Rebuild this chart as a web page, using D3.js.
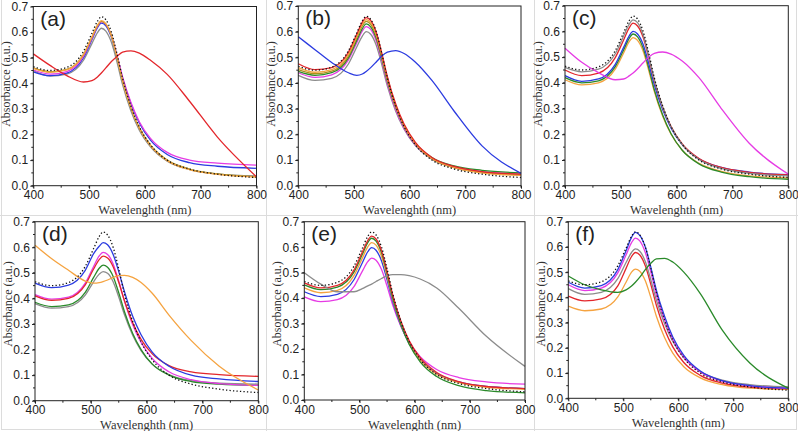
<!DOCTYPE html>
<html><head><meta charset="utf-8">
<script src="https://cdn.jsdelivr.net/npm/d3@7"></script>
<style>html,body{margin:0;padding:0;background:#fff;}svg{display:block;}</style>
</head><body>
<svg id="chart" width="798" height="431"></svg>
<script>
// ---------- data ----------
const wavelengths = [400,430,460,490,505,515,522,530,540,550,560,575,590,610,640,680,730,800];
const xTicks = [400,500,600,700,800];
const yTicks = [0.0,0.1,0.2,0.3,0.4,0.5,0.6,0.7];
const panelLabels = ["(a)","(b)","(c)","(d)","(e)","(f)"];
const xTitle = "Wavelenghth (nm)";
const yTitle = "Absorbance (a.u.)";

const control = [0.465,0.450,0.462,0.525,0.595,0.642,0.660,0.648,0.600,0.515,0.420,0.310,0.230,0.160,0.100,0.065,0.045,0.032];

// panel (a)
const aOrange  = [0.458,0.443,0.452,0.513,0.581,0.627,0.645,0.633,0.586,0.503,0.410,0.303,0.225,0.157,0.098,0.063,0.044,0.034];
const aOlive   = [0.460,0.445,0.454,0.512,0.579,0.625,0.642,0.631,0.585,0.502,0.410,0.304,0.226,0.158,0.100,0.065,0.046,0.035];
const aMagenta = [0.452,0.436,0.446,0.506,0.575,0.622,0.640,0.630,0.586,0.510,0.425,0.325,0.250,0.185,0.130,0.100,0.088,0.080];
const aBlue    = [0.445,0.430,0.440,0.500,0.570,0.617,0.635,0.625,0.580,0.505,0.420,0.320,0.245,0.178,0.122,0.090,0.076,0.068];
const aGrey    = [0.450,0.428,0.436,0.490,0.555,0.598,0.615,0.604,0.560,0.483,0.395,0.292,0.217,0.152,0.096,0.063,0.046,0.038];
const aRed     = [0.515,0.470,0.430,0.405,0.410,0.425,0.440,0.460,0.485,0.505,0.522,0.527,0.518,0.490,0.435,0.330,0.190,0.035];

// panel (b)
const bRed     = [0.475,0.452,0.460,0.520,0.590,0.637,0.655,0.644,0.598,0.516,0.425,0.318,0.240,0.170,0.110,0.075,0.055,0.045];
const bOrange  = [0.460,0.442,0.452,0.512,0.582,0.629,0.647,0.636,0.590,0.508,0.418,0.312,0.235,0.166,0.106,0.070,0.050,0.040];
const bOlive   = [0.452,0.436,0.446,0.505,0.575,0.622,0.640,0.629,0.583,0.503,0.413,0.308,0.232,0.164,0.105,0.070,0.052,0.042];
const bGreen   = [0.445,0.430,0.440,0.498,0.566,0.612,0.630,0.619,0.574,0.496,0.408,0.306,0.232,0.166,0.110,0.077,0.060,0.050];
const bMagenta = [0.440,0.422,0.432,0.490,0.557,0.603,0.620,0.609,0.564,0.486,0.398,0.297,0.224,0.160,0.105,0.072,0.055,0.045];
const bGrey    = [0.430,0.410,0.418,0.474,0.540,0.583,0.600,0.590,0.547,0.472,0.388,0.290,0.220,0.157,0.103,0.070,0.053,0.043];
const bBlue    = [0.580,0.530,0.480,0.440,0.430,0.435,0.445,0.460,0.482,0.505,0.520,0.526,0.515,0.482,0.410,0.290,0.155,0.048];

// panel (c)
const cGrey    = [0.460,0.443,0.453,0.513,0.582,0.628,0.645,0.634,0.587,0.504,0.412,0.305,0.228,0.160,0.102,0.067,0.048,0.038];
const cRed     = [0.450,0.428,0.438,0.498,0.567,0.614,0.632,0.621,0.577,0.498,0.408,0.305,0.230,0.163,0.106,0.071,0.052,0.042];
const cBlue    = [0.428,0.406,0.415,0.472,0.538,0.583,0.600,0.590,0.549,0.475,0.392,0.295,0.224,0.160,0.105,0.071,0.053,0.043];
const cGreen   = [0.420,0.400,0.408,0.463,0.528,0.573,0.590,0.579,0.535,0.458,0.373,0.275,0.202,0.138,0.085,0.053,0.035,0.025];
const cOrange  = [0.412,0.392,0.400,0.453,0.516,0.560,0.576,0.565,0.523,0.448,0.366,0.270,0.200,0.138,0.087,0.056,0.038,0.030];
const cMagenta = [0.535,0.480,0.440,0.412,0.415,0.427,0.438,0.455,0.478,0.500,0.515,0.520,0.512,0.485,0.420,0.300,0.165,0.045];

// panel (d)
const dBlue    = [0.460,0.442,0.452,0.510,0.575,0.604,0.618,0.610,0.572,0.505,0.428,0.330,0.258,0.190,0.135,0.100,0.085,0.075];
const dMagenta = [0.415,0.397,0.405,0.460,0.525,0.566,0.580,0.572,0.535,0.468,0.392,0.297,0.228,0.165,0.113,0.082,0.067,0.060];
const dRed     = [0.410,0.392,0.400,0.453,0.515,0.552,0.565,0.558,0.524,0.463,0.393,0.305,0.240,0.183,0.137,0.113,0.102,0.095];
const dGreen   = [0.385,0.368,0.375,0.424,0.482,0.518,0.530,0.522,0.486,0.422,0.350,0.263,0.200,0.143,0.100,0.075,0.065,0.060];
const dGrey    = [0.380,0.362,0.368,0.413,0.465,0.495,0.505,0.498,0.465,0.405,0.338,0.256,0.196,0.143,0.102,0.078,0.069,0.065];
const dOrange  = [0.608,0.555,0.510,0.468,0.460,0.462,0.466,0.472,0.482,0.489,0.490,0.482,0.462,0.420,0.335,0.235,0.135,0.042];

// panel (e)
const eRed     = [0.460,0.440,0.450,0.510,0.580,0.626,0.643,0.632,0.586,0.505,0.415,0.310,0.233,0.166,0.108,0.072,0.053,0.045];
const eGreen   = [0.452,0.433,0.443,0.502,0.571,0.618,0.635,0.624,0.578,0.496,0.403,0.297,0.219,0.150,0.092,0.056,0.037,0.028];
const eOrange  = [0.440,0.421,0.430,0.488,0.556,0.601,0.618,0.608,0.563,0.485,0.397,0.296,0.222,0.157,0.101,0.068,0.050,0.042];
const eBlue    = [0.425,0.406,0.415,0.472,0.538,0.582,0.598,0.588,0.546,0.472,0.388,0.292,0.221,0.158,0.104,0.071,0.053,0.045];
const eMagenta = [0.405,0.386,0.394,0.445,0.505,0.543,0.557,0.549,0.512,0.447,0.375,0.290,0.227,0.170,0.120,0.088,0.071,0.062];
const eGrey    = [0.500,0.455,0.425,0.425,0.437,0.448,0.455,0.465,0.477,0.487,0.492,0.492,0.488,0.475,0.440,0.360,0.250,0.132];

// panel (f)
const fBlue    = [0.460,0.437,0.447,0.510,0.585,0.638,0.658,0.646,0.600,0.520,0.430,0.325,0.243,0.170,0.108,0.070,0.050,0.040];
const fMagenta = [0.450,0.427,0.437,0.497,0.568,0.617,0.635,0.624,0.578,0.500,0.412,0.310,0.232,0.163,0.104,0.068,0.049,0.040];
const fGrey    = [0.435,0.412,0.420,0.474,0.538,0.578,0.592,0.583,0.542,0.470,0.390,0.296,0.225,0.161,0.106,0.072,0.054,0.045];
const fRed     = [0.405,0.386,0.394,0.446,0.515,0.562,0.578,0.568,0.525,0.452,0.370,0.274,0.204,0.142,0.091,0.060,0.044,0.038];
const fOrange  = [0.365,0.347,0.354,0.402,0.460,0.500,0.512,0.504,0.466,0.400,0.326,0.241,0.179,0.125,0.081,0.054,0.040,0.035];
const fGreen   = [0.485,0.450,0.430,0.420,0.430,0.445,0.460,0.480,0.510,0.535,0.553,0.555,0.540,0.500,0.415,0.270,0.140,0.040];

// ---------- styles / layout ----------
const C = {red:"#e3262b", blue:"#2b3be0", magenta:"#e63be4", olive:"#a8921c", orange:"#f5a340",
           green:"#2a8a2a", grey:"#8c8c8c", black:"#111"};

const panels = [
  {x0:33.3, x1:256.5, yT:6.5, yB:185.7, ytx:84, series:[
    [aGrey,C.grey],[aBlue,C.blue],[aMagenta,C.magenta],[aOlive,C.olive],[aOrange,C.orange],[aRed,C.red],[control,"dot"]]},
  {x0:298.3, x1:521, yT:6, yB:185.7, ytx:84, series:[
    [bGrey,C.grey],[bMagenta,C.magenta],[bGreen,C.green],[bOlive,C.olive],[bOrange,C.orange],[bRed,C.red],[bBlue,C.blue],[control,"dot"]]},
  {x0:565, x1:788.3, yT:5.7, yB:185.7, ytx:84, series:[
    [cOrange,C.orange],[cGreen,C.green],[cBlue,C.blue],[cRed,C.red],[cGrey,C.grey],[cMagenta,C.magenta],[control,"dot"]]},
  {x0:35, x1:258.3, yT:221.7, yB:400.7, ytx:304, series:[
    [dGrey,C.grey],[dGreen,C.green],[dMagenta,C.magenta],[dRed,C.red],[dBlue,C.blue],[dOrange,C.orange],[control,"dot"]]},
  {x0:304.3, x1:525, yT:221.7, yB:400, ytx:304, series:[
    [eMagenta,C.magenta],[eBlue,C.blue],[eOrange,C.orange],[eGreen,C.green],[eRed,C.red],[eGrey,C.grey],[control,"dot"]]},
  {x0:568.3, x1:788.3, yT:221.7, yB:398.3, ytx:304, series:[
    [fOrange,C.orange],[fRed,C.red],[fGrey,C.grey],[fMagenta,C.magenta],[fBlue,C.blue],[fGreen,C.green],[control,"dot"]]}
];

const svg = d3.select("#chart");

// light panel separators
const sep = svg.append("g").attr("stroke","#dcdcdc").attr("stroke-width",1).attr("fill","none");
sep.append("rect").attr("x",1.5).attr("y",-2).attr("width",795).attr("height",431.5);
sep.append("line").attr("x1",266.5).attr("x2",266.5).attr("y1",0).attr("y2",431);
sep.append("line").attr("x1",534.5).attr("x2",534.5).attr("y1",0).attr("y2",431);
sep.append("line").attr("x1",0).attr("x2",798).attr("y1",215.5).attr("y2",215.5);

const minorX = d3.range(400, 801, 50);
const minorY = d3.range(0, 0.701, 0.05);

panels.forEach((p, i) => {
  const x = d3.scaleLinear().domain([400, 800]).range([p.x0, p.x1]);
  const y = d3.scaleLinear().domain([0, 0.7]).range([p.yB, p.yT]);
  const g = svg.append("g");

  const line = d3.line().x((d, k) => x(wavelengths[k])).y(d => y(d)).curve(d3.curveMonotoneX);
  p.series.forEach(([vals, col]) => {
    const path = g.append("path").datum(vals).attr("d", line).attr("fill", "none");
    if (col === "dot") {
      path.attr("stroke", C.black).attr("stroke-width", 1.3).attr("stroke-dasharray", "1.3,2.2");
    } else {
      path.attr("stroke", col).attr("stroke-width", 1.3);
    }
  });

  // frame
  g.append("rect").attr("x", p.x0).attr("y", p.yT).attr("width", p.x1 - p.x0).attr("height", p.yB - p.yT)
    .attr("fill", "none").attr("stroke", "#222").attr("stroke-width", 1);

  // axes
  const xAxis = d3.axisBottom(x).tickValues(xTicks).tickFormat(d3.format("d")).tickSize(3).tickPadding(2);
  const yAxis = d3.axisLeft(y).tickValues(yTicks).tickFormat(d3.format(".1f")).tickSize(3).tickPadding(2);
  const gx = g.append("g").attr("transform", `translate(0,${p.yB})`).call(xAxis);
  const gy = g.append("g").attr("transform", `translate(${p.x0},0)`).call(yAxis);
  [gx, gy].forEach(a => {
    a.select(".domain").remove();
    a.selectAll("line").attr("stroke", "#222");
    a.selectAll("text").attr("font-family", "Liberation Sans, Arial, sans-serif").attr("font-size", 12).attr("fill", "#222");
  });
  // minor ticks
  g.append("g").selectAll("line").data(minorX).join("line")
    .attr("x1", d => x(d)).attr("x2", d => x(d)).attr("y1", p.yB).attr("y2", p.yB + 2).attr("stroke", "#222");
  g.append("g").selectAll("line").data(minorY).join("line")
    .attr("x1", p.x0 - 2).attr("x2", p.x0).attr("y1", d => y(d)).attr("y2", d => y(d)).attr("stroke", "#222");

  // titles
  g.append("text").attr("x", (p.x0 + p.x1) / 2).attr("y", Math.min(p.yB + 28.5, 428.6)).attr("text-anchor", "middle")
    .attr("font-family", "Liberation Serif, Times New Roman, serif").attr("font-size", 12.5).attr("fill", "#333").text(xTitle);
  g.append("text").attr("transform", `translate(${p.x0 - 23},${p.ytx}) rotate(-90)`).attr("text-anchor", "middle")
    .attr("font-family", "Liberation Serif, Times New Roman, serif").attr("font-size", 12).attr("fill", "#333").text(yTitle);
  // panel label
  g.append("text").attr("x", p.x0 + 7).attr("y", p.yT + 19).attr("font-family", "Liberation Sans, Arial, sans-serif")
    .attr("font-size", 21).attr("fill", "#222").text(panelLabels[i]);
});
</script>
</body></html>
